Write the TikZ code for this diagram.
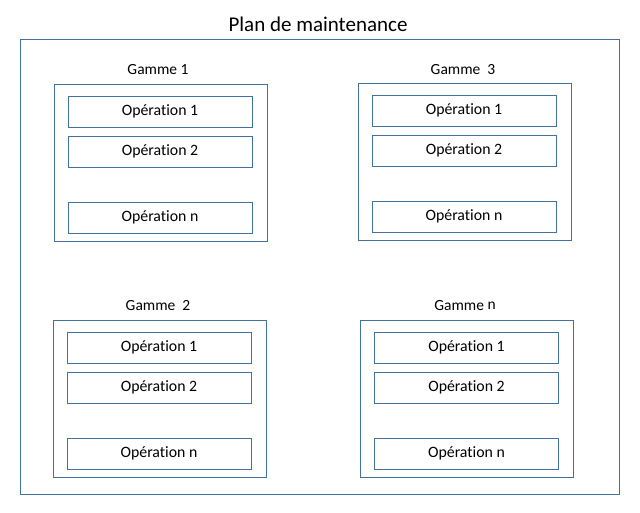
\documentclass[tikz,border=0pt]{standalone}
\usepackage{fontspec}
\setmainfont{Carlito}[Ligatures=CommonOff]
\definecolor{boxblue}{HTML}{41719C}
\tikzset{
  plan/.style={draw=boxblue, line width=1pt, minimum width=599pt, minimum height=455pt, inner sep=0pt},
  gamme/.style={draw=boxblue, line width=1pt, minimum width=213pt, minimum height=157pt, inner sep=0pt},
  operation/.style={draw=boxblue, line width=1pt, minimum width=184pt, minimum height=31pt, inner sep=0pt, font=\fontsize{15.8}{18}\selectfont},
  gammelabel/.style={font=\fontsize{15.5}{17}\selectfont, inner sep=0pt},
  titre/.style={font=\fontsize{21}{24}\selectfont, inner sep=0pt}
}
\begin{document}
\begin{tikzpicture}[x=1pt,y=-1pt]
  \useasboundingbox (0,0) rectangle (640,512);
  \node[titre] (title) at (318,24) {Plan de maintenance};
  \node[plan] (planbox) at (319.5,266.5) {};

  % Gamme 1
  \node[gammelabel] (g1label) at (158,70) {Gamme 1};
  \node[gamme] (g1) at (160.5,162.5) {};
  \node[operation] (g1op1) at (160,111.5) {Opération 1};
  \node[operation] (g1op2) at (160,151.5) {Opération 2};
  \node[operation] (g1opn) at (160,217.5) {Opération n};

  % Gamme 3
  \node[gammelabel] (g3label) at (463,70) {Gamme\ \ 3};
  \node[gamme] (g3) at (464.5,161.5) {};
  \node[operation] (g3op1) at (464,110.5) {Opération 1};
  \node[operation] (g3op2) at (464,150.5) {Opération 2};
  \node[operation] (g3opn) at (464,216.5) {Opération n};

  % Gamme 2
  \node[gammelabel] (g2label) at (158,306) {Gamme\ \ 2};
  \node[gamme] (g2) at (159.5,398.5) {};
  \node[operation] (g2op1) at (159,347.5) {Opération 1};
  \node[operation] (g2op2) at (159,387.5) {Opération 2};
  \node[operation] (g2opn) at (159,453.5) {Opération n};

  % Gamme n
  \node[gammelabel] (gnlabel) at (465,306) {Gamme\ \raisebox{1.5pt}{n}};
  \node[gamme] (gn) at (467,398.5) {};
  \node[operation] (gnop1) at (466.5,347.5) {Opération 1};
  \node[operation] (gnop2) at (466.5,387.5) {Opération 2};
  \node[operation] (gnopn) at (466.5,453.5) {Opération n};
\end{tikzpicture}
\end{document}
